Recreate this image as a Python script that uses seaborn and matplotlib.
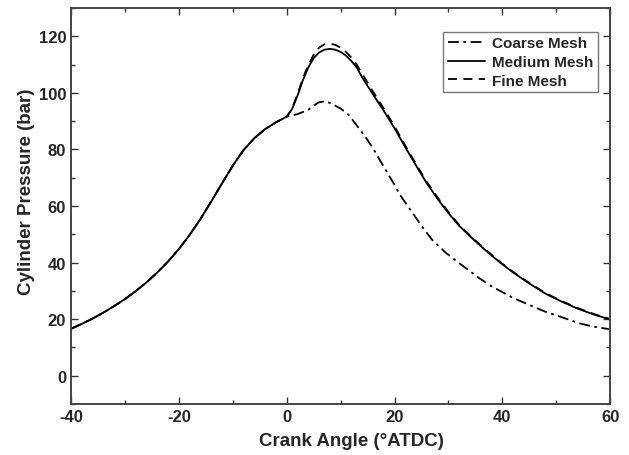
import matplotlib
matplotlib.use('Agg')
import matplotlib.pyplot as plt
from matplotlib.ticker import MultipleLocator
import seaborn as sns
import pandas as pd

# common compression part, crank angle (deg ATDC) and pressure (bar)
angle_base = [-40, -38, -36, -34, -32, -30, -28, -26, -24, -22, -20, -18,
              -16, -14, -12, -10, -8, -6, -4, -2, -1]
p_base = [16.6, 18.3, 20.2, 22.3, 24.6, 27.1, 29.9, 33.0, 36.5, 40.4, 44.8,
          49.8, 55.4, 61.6, 68.0, 74.3, 79.8, 84.0, 87.2, 89.6, 90.6]

angle_medium = [0, 1, 2, 3, 4, 5, 6, 7, 8, 9, 10, 11, 12, 13, 14, 16, 18, 20,
                22, 24, 26, 28, 30, 32, 34, 36, 38, 40, 42, 45, 48, 51, 54,
                57, 60]
p_medium = [91.6, 94.3, 99.0, 104.5, 109.0, 112.3, 114.3, 115.3, 115.6, 115.3,
            114.5, 113.2, 111.3, 109.0, 105.5, 99.5, 93.7, 87.5, 80.8, 74.3,
            68.0, 62.5, 57.5, 53.0, 49.3, 45.8, 42.5, 39.4, 36.5, 32.6, 29.0,
            26.2, 23.7, 21.6, 19.9]

angle_fine = [0, 1, 2, 3, 4, 5, 6, 7, 8, 9, 10, 11, 12, 13, 14, 16, 18, 20,
              22, 24, 26, 28, 30, 32, 34, 36, 38, 40, 42, 45, 48, 51, 54,
              57, 60]
p_fine = [91.6, 94.5, 99.5, 105.2, 109.8, 113.5, 116.0, 117.2, 117.4, 117.0,
          116.0, 114.5, 112.5, 110.0, 106.8, 100.5, 94.5, 88.2, 81.4, 74.8,
          68.5, 63.0, 57.9, 53.3, 49.6, 46.1, 42.8, 39.6, 36.7, 32.8, 29.2,
          26.4, 23.9, 21.8, 20.0]

angle_coarse = [0, 2, 4, 5, 6, 7, 8, 10, 11.5, 13, 14.5, 16, 17.2, 20, 21, 23,
                25.2, 27, 29.5, 32, 35.7, 38, 42, 46, 48, 51, 54.3, 57, 60]
p_coarse = [91.6, 92.5, 94.0, 95.5, 96.7, 97.0, 96.5, 94.5, 92.2, 88.5, 84.7,
            80.5, 76.5, 67.5, 64.0, 58.5, 52.5, 48.0, 43.5, 39.8, 34.5, 31.6,
            27.5, 24.2, 22.6, 20.7, 18.5, 17.3, 16.4]

series = {
    'Coarse Mesh': (angle_coarse, p_coarse, (0, (6, 2.5, 1.5, 2.5))),
    'Medium Mesh': (angle_medium, p_medium, '-'),
    'Fine Mesh': (angle_fine, p_fine, (0, (5, 3.5))),
}

sns.set_style('ticks')
plt.rcParams['font.family'] = ['Liberation Sans', 'DejaVu Sans']
plt.rcParams['font.weight'] = 'bold'
plt.rcParams['axes.unicode_minus'] = False

fig = plt.figure(figsize=(6.29, 4.56), dpi=100)
ax = fig.add_axes([0.113, 0.112, 0.857, 0.868])

for name, (ang, p, ls) in series.items():
    df = pd.DataFrame({'angle': angle_base + ang, 'p': p_base + p})
    sns.lineplot(data=df, x='angle', y='p', ax=ax, color='black',
                 linestyle=ls, linewidth=1.3, label=name)

ax.set_xlim(-40, 60)
ax.set_ylim(-10, 130)
ax.xaxis.set_major_locator(MultipleLocator(20))
ax.xaxis.set_minor_locator(MultipleLocator(10))
ax.yaxis.set_major_locator(MultipleLocator(20))
ax.yaxis.set_minor_locator(MultipleLocator(10))
ax.tick_params(which='both', direction='in', top=True, right=True,
               labelsize=12, width=1.0, color='#333333')
ax.tick_params(which='major', length=5)
ax.tick_params(which='minor', length=3)
for lab in ax.get_xticklabels() + ax.get_yticklabels():
    lab.set_fontweight('bold')
for sp in ax.spines.values():
    sp.set_linewidth(1.4)
    sp.set_color('#444444')

ax.set_xlabel('Crank Angle (\u00b0ATDC)', fontsize=13.5, fontweight='bold')
ax.set_ylabel('Cylinder Pressure (bar)', fontsize=13.5, fontweight='bold')
ax.xaxis.set_label_coords(0.521, -0.072)
ax.yaxis.set_label_coords(-0.066, 0.538)

leg = ax.legend(loc='upper right', bbox_to_anchor=(0.978, 0.94), fontsize=11,
                frameon=True, fancybox=False, handlelength=2.4,
                borderpad=0.3, labelspacing=0.3, handletextpad=0.5,
                borderaxespad=0.0)
leg.get_frame().set_edgecolor('#555555')
leg.get_frame().set_linewidth(1.0)
for t in leg.get_texts():
    t.set_fontweight('bold')

fig.savefig('out.png', dpi=100)
